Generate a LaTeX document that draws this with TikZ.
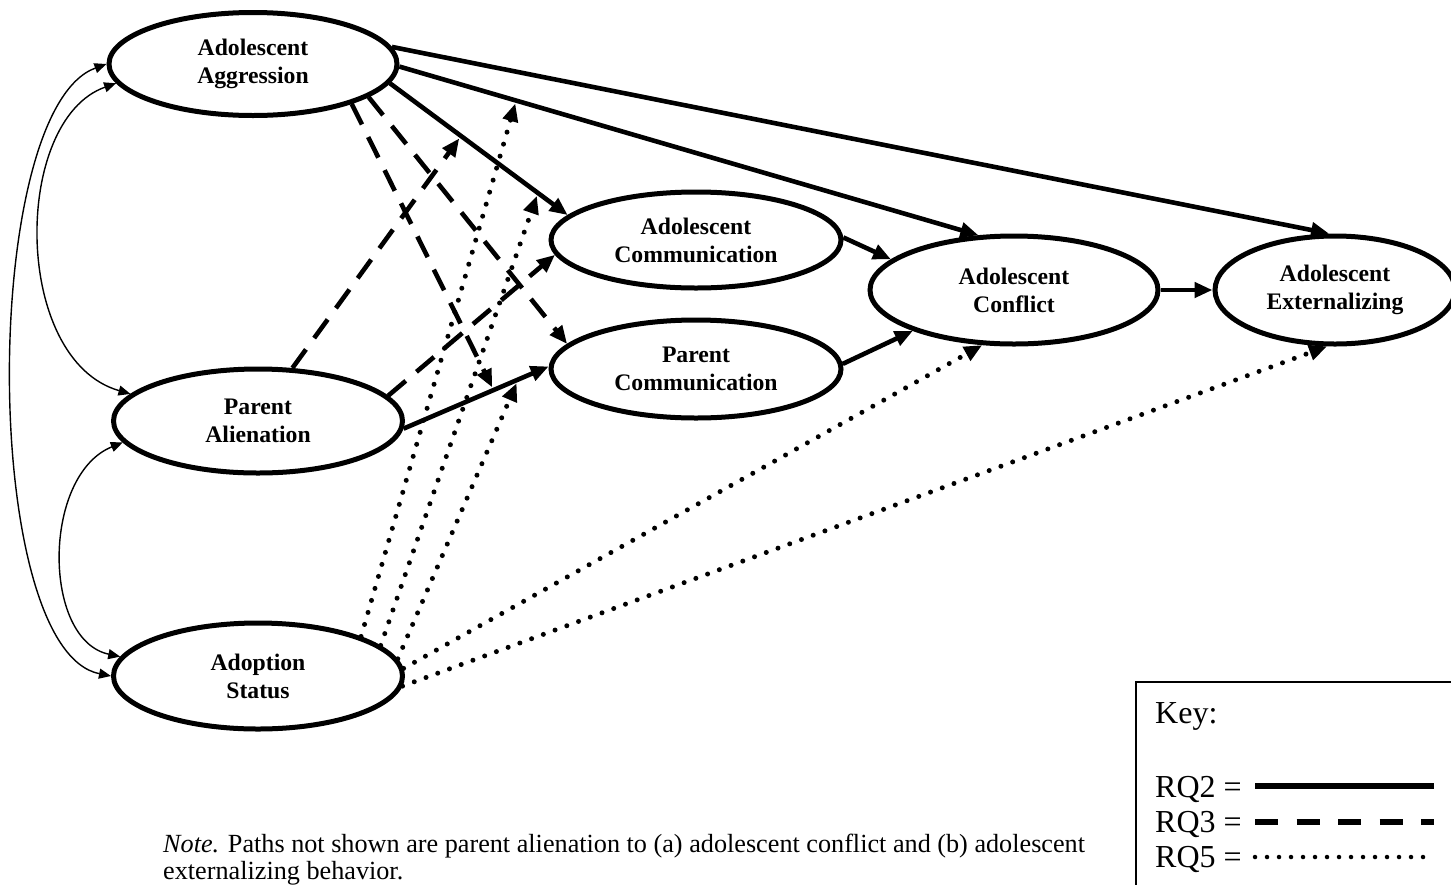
\documentclass[tikz,border=0pt]{standalone}
\usepackage{fontspec}
\setmainfont{Liberation Serif}
\usetikzlibrary{arrows.meta,shapes.geometric}
\tikzset{
  lat/.style={ellipse, draw, line width=5pt, inner sep=0pt, align=center,
    font=\bfseries\fontsize{23.7}{28}\selectfont},
  rqtwo/.style={line width=4.6pt, -{Triangle[length=18pt,width=15pt]}},
  rqthree/.style={rqtwo, dash pattern=on 23pt off 14pt},
  rqfive/.style={rqtwo, line width=5pt, line cap=round, dash pattern=on 0pt off 12.5pt},
  cov/.style={line width=1.4pt, {Triangle[length=12pt,width=10pt]}-{Triangle[length=12pt,width=10pt]}},
  keytext/.style={inner sep=0pt, font=\fontsize{32}{36}\selectfont},
  notetext/.style={inner sep=0pt, font=\fontsize{26.2}{27}\selectfont},
}
\begin{document}
\begin{tikzpicture}[x=1pt,y=-1pt]
\path[fill=white, use as bounding box] (0,0) rectangle (1451,884);

% latent variables
\node[lat, minimum width=288pt, minimum height=103pt] (agg)  at (253,64)  {Adolescent\\Aggression};
\node[lat, minimum width=289pt, minimum height=104pt] (ali)  at (258,421) {Parent\\Alienation};
\node[lat, minimum width=289pt, minimum height=106pt] (ado)  at (258,676) {Adoption\\Status};
\node[lat, minimum width=290pt, minimum height=96pt]  (acom) at (696,240) {Adolescent\\Communication};
\node[lat, minimum width=290pt, minimum height=98pt]  (pcom) at (696,369) {Parent\\Communication};
\node[lat, minimum width=288pt, minimum height=108pt] (con)  at (1014,290) {Adolescent\\Conflict};
\node[lat, minimum width=240pt, minimum height=108pt] (ext)  at (1335,290) {Adolescent\\Externalizing};

% covariances
\draw[cov] (agg.180) .. controls (-20,110) and (-20,650) .. (ado.180);
\draw[cov] (agg.188) .. controls (12,120) and (12,360) .. (ali.168);
\draw[cov] (ali.189) .. controls (42,475) and (42,640) .. (ado.172);

% RQ2 solid paths
\draw[rqtwo] (agg.7) -- (ext.96);
\draw[rqtwo] (agg.-1) -- coordinate[pos=0.2017] (m1) (con.123);
\draw[rqtwo] (agg.-8) -- coordinate[pos=0.40] (mc) coordinate[pos=0.832] (m2) (acom.169);
\draw[rqtwo] (ali.-3) -- coordinate[pos=0.62] (ma) coordinate[pos=0.79] (m3) (pcom.179);
\draw[rqtwo] (acom.1) -- (con.166);
\draw[rqtwo] (pcom.2) -- (con.202);
\draw[rqtwo] (con.east) -- (ext.west);

% RQ3 dashed paths
\draw[rqthree, shorten >=3pt] (agg.-22) -- (ma);
\draw[rqthree] (agg.-16) -- (pcom.169);
\draw[rqthree, shorten >=3pt] (ali.57) -- (mc);
\draw[rqthree] (ali.11) -- (acom.186);

% RQ5 dotted paths
\draw[rqfive, shorten >=3pt] (ado.21) -- (m1);
\draw[rqfive, shorten >=3pt] (ado.14) -- (m2);
\draw[rqfive, shorten >=4pt] (ado.7) -- (m3);
\draw[rqfive] (ado.3) -- (con.240);
\draw[rqfive] (ado.-4) -- (ext.262);

% note
\node[notetext, anchor=base west] (note1) at (163,852) {\textit{Note.} Paths not shown are parent alienation to (a) adolescent conflict and (b) adolescent};
\node[notetext, anchor=base west] (note2) at (163,879) {externalizing behavior.};

% key
\node[draw, line width=2pt, anchor=north west, minimum width=340pt, minimum height=240pt, inner sep=0pt] (keybox) at (1134.5,681) {};
\node[keytext, anchor=base west] (key) at (1155,723) {Key:};
\node[keytext, anchor=base west] (k2) at (1155,797) {RQ2 =};
\node[keytext, anchor=base west] (k3) at (1155,832) {RQ3 =};
\node[keytext, anchor=base west] (k5) at (1155,867) {RQ5 =};
\coordinate (l2) at (1255,786);
\coordinate (l3) at (1255,822);
\coordinate (l5) at (1255,857);
\draw[line width=5.5pt] (l2) -- ++(179,0);
\draw[line width=5.5pt, dash pattern=on 23pt off 18.5pt] (l3) -- ++(179,0);
\draw[line width=4.5pt, line cap=round, dash pattern=on 0pt off 12pt] (l5) -- ++(170,0);
\end{tikzpicture}
\end{document}
